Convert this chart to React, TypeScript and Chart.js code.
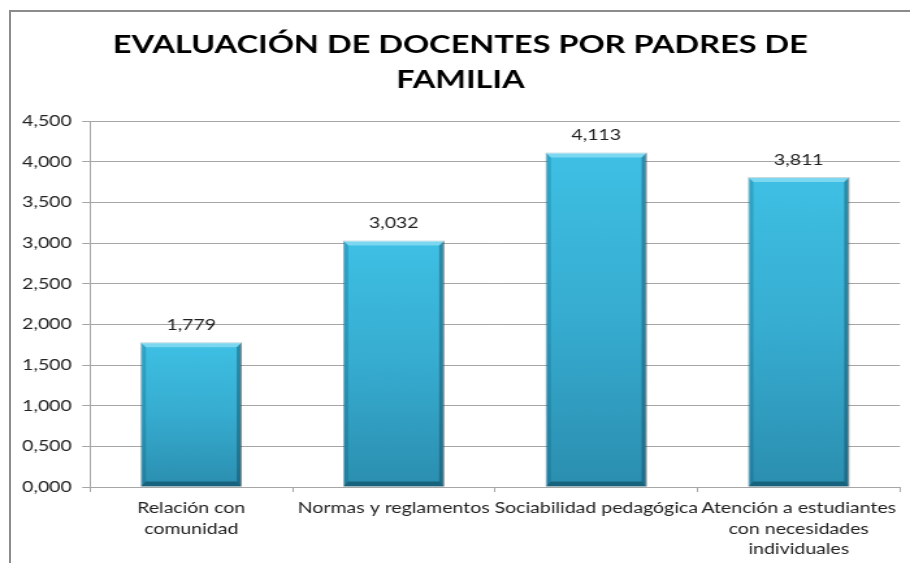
import React, { useEffect, useRef } from "react";
import { Chart, registerables } from "chart.js";

Chart.register(...registerables);

// ---- data ----
const TITLE_LINES = ["EVALUACIÓN DE DOCENTES POR PADRES DE", "FAMILIA"];
const CATEGORIES = [
  ["Relación con", "comunidad"],
  ["Normas y reglamentos"],
  ["Sociabilidad pedagógica"],
  ["Atención a estudiantes", "con necesidades", "individuales"],
];
const VALUES = [1.779, 3.032, 4.113, 3.811];
const Y_MIN = 0;
const Y_MAX = 4.5;
const Y_STEP = 0.5;

const fmt = (v: number) => v.toFixed(3).replace(".", ",");

// ---- layout (canvas is drawn narrower and stretched horizontally) ----
const STRETCH = 1.3;
const OUT_W = 910;
const OUT_H = 563;
const W = Math.round(OUT_W / STRETCH);
const H = OUT_H;
const FONT = "Lato, 'Open Sans', sans-serif";
const PAD_LEFT = 16;

const bevelPlugin = {
  id: "bevelAndLabels",
  afterDatasetsDraw(chart: any) {
    const ctx = chart.ctx;
    const meta = chart.getDatasetMeta(0);
    ctx.save();
    meta.data.forEach((bar: any, i: number) => {
      const { x, y, base, width } = bar.getProps(["x", "y", "base", "width"], true);
      const l = x - width / 2;
      const r = x + width / 2;
      const t = y;
      const b = base;
      const bx = 4;
      const by = 5;
      const poly = (pts: number[][], color: string) => {
        ctx.beginPath();
        ctx.moveTo(pts[0][0], pts[0][1]);
        for (let k = 1; k < pts.length; k++) ctx.lineTo(pts[k][0], pts[k][1]);
        ctx.closePath();
        ctx.fillStyle = color;
        ctx.fill();
      };
      poly([[l, t], [l + bx, t + by], [l + bx, b - by], [l, b]], "rgba(0,70,95,0.22)");
      poly([[r, t], [r - bx, t + by], [r - bx, b - by], [r, b]], "rgba(0,50,70,0.35)");
      poly([[l, b], [r, b], [r - bx, b - by], [l + bx, b - by]], "rgba(0,45,65,0.45)");
      poly([[l, t], [r, t], [r - bx, t + by], [l + bx, t + by]], "rgba(200,245,255,0.45)");

      ctx.fillStyle = "#222";
      ctx.font = `15px ${FONT}`;
      ctx.textAlign = "center";
      ctx.textBaseline = "alphabetic";
      ctx.fillText(fmt(VALUES[i]), x, t - 12);
    });
    ctx.restore();
  },
};

export default function App() {
  const ref = useRef<HTMLCanvasElement | null>(null);

  useEffect(() => {
    const canvas = ref.current!;
    const chart = new Chart(canvas, {
      type: "bar",
      data: {
        labels: CATEGORIES,
        datasets: [
          {
            data: VALUES,
            backgroundColor: (c: any) => {
              const ch = c.chart;
              const ys = ch.scales && ch.scales.y;
              if (!ys || c.type !== "data") return "#37b2d6";
              const top = ys.getPixelForValue(c.raw);
              const bot = ys.getPixelForValue(0);
              if (!isFinite(top) || !isFinite(bot) || top === bot) return "#37b2d6";
              const g = ch.ctx.createLinearGradient(0, top, 0, bot);
              g.addColorStop(0, "#3ec0e4");
              g.addColorStop(0.5, "#36acd0");
              g.addColorStop(1, "#2b8eaf");
              return g;
            },
            borderColor: "rgba(90,90,90,0.35)",
            borderWidth: 1,
            barPercentage: 0.5,
            categoryPercentage: 1,
          },
        ],
      },
      options: {
        responsive: false,
        devicePixelRatio: 1,
        animation: false,
        layout: { padding: { left: PAD_LEFT, right: W - 900 / STRETCH, top: 0, bottom: 0 } },
        plugins: {
          legend: { display: false },
          tooltip: { enabled: false },
          title: {
            display: true,
            text: TITLE_LINES,
            color: "#000",
            font: { family: FONT, weight: "bold", size: 25, lineHeight: 1.4 },
            padding: { top: 27, bottom: 24 },
          },
        },
        scales: {
          x: {
            grid: {
              display: true,
              drawOnChartArea: false,
              drawTicks: true,
              tickLength: 5,
              color: "#a6a6a6",
              offset: true,
            },
            border: { display: true, color: "#a6a6a6" },
            ticks: {
              color: "#222",
              font: { family: FONT, size: 15, lineHeight: 1.37 },
              padding: 6,
              maxRotation: 0,
              autoSkip: false,
            },
            afterFit: (s: any) => {
              s.height = OUT_H - 487;
            },
          },
          y: {
            min: Y_MIN,
            max: Y_MAX,
            grid: { color: "#a6a6a6", lineWidth: 1, tickLength: 6, drawTicks: true },
            border: { display: true, color: "#a6a6a6" },
            ticks: {
              stepSize: Y_STEP,
              color: "#222",
              font: { family: FONT, size: 15 },
              padding: 8,
              callback: (v: any) => fmt(Number(v)),
            },
            afterFit: (s: any) => {
              s.width = 90 / STRETCH - PAD_LEFT;
            },
          },
        },
      },
      plugins: [bevelPlugin],
    });
    return () => chart.destroy();
  }, []);

  return (
    <div
      style={{
        position: "fixed",
        left: 0,
        top: 0,
        width: OUT_W,
        height: OUT_H,
        overflow: "hidden",
        background: "#fff",
      }}
    >
      <div
        style={{
          position: "absolute",
          left: 9,
          top: 10,
          width: 1200,
          height: 1200,
          border: "2px solid #8c8c8c",
          boxSizing: "border-box",
        }}
      />
      <canvas
        ref={ref}
        width={W}
        height={H}
        style={{ position: "absolute", left: 0, top: 0, width: OUT_W + "px", height: OUT_H + "px", display: "block" }}
      />
    </div>
  );
}
